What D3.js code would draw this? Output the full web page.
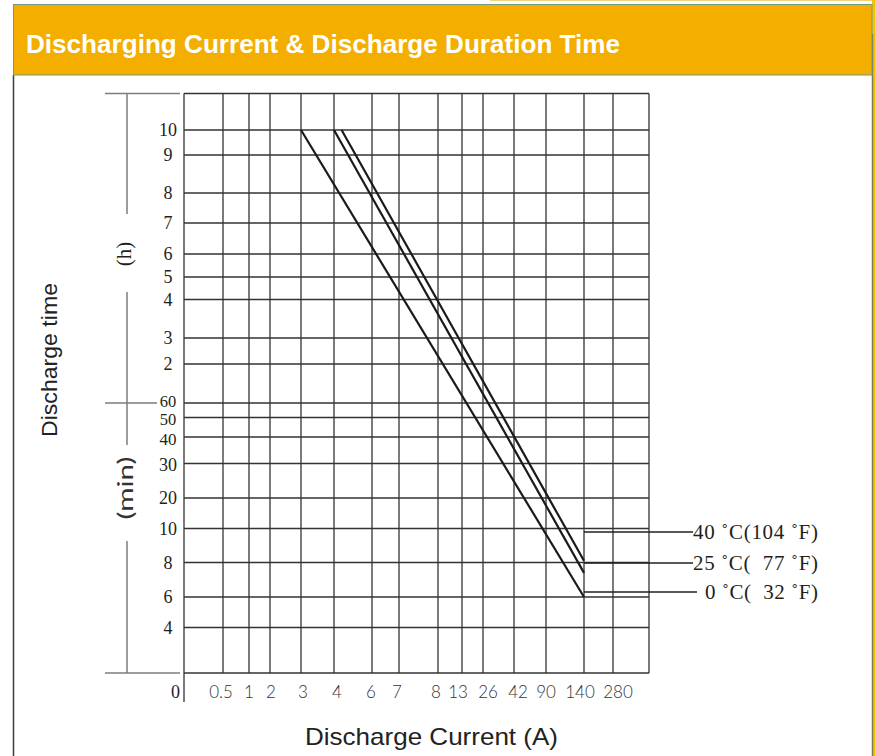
<!DOCTYPE html>
<html>
<head>
<meta charset="utf-8">
<script src="https://cdn.jsdelivr.net/npm/d3@7"></script>
<style>
  body { margin: 0; background: #fff; }
  svg { display: block; }
  text { white-space: pre; }
</style>
</head>
<body>
<svg></svg>
<script>
const width = 875;
const height = 756;

// Data
const currentTicks = [0, 0.5, 1, 2, 3, 4, 6, 7, 8, 13, 26, 42, 90, 140, 280];
const currentLabels = ["0", "0.5", "1", "2", "3", "4", "6", "7", "8", "13", "26", "42", "90", "140", "280"];
const timeTicks = [600, 540, 480, 420, 360, 300, 240, 180, 120, 60, 50, 40, 30, 20, 10, 8, 6, 4, 0]; // minutes
const timeLabels = ["10", "9", "8", "7", "6", "5", "4", "3", "2", "60", "50", "40", "30", "20", "10", "8", "6", "4", ""];
const seriesNames = ["40 ˚C(104 ˚F)", "25 ˚C(  77 ˚F)", "0 ˚C(  32 ˚F)"];
const startCurrent = [4.4, 4, 3];
const startTime = [600, 600, 600];
const endCurrent = [140, 140, 140];
const endTime = [8.1, 7.4, 6];

// Layout of the hand-drawn grid (pixel positions of each grid line)
const xGridPx = [184, 223, 249, 270, 301, 334, 372, 399, 438, 462, 483, 514, 546, 584, 613];
const yGridPx = [130, 155, 193, 223, 254, 277, 299.5, 338, 364, 403, 417.5, 437, 463.5, 498, 528.5, 562.5, 597, 627.5, 673];
const xLabelShift = [0, -2, 0, 1, 2, 3, -1, -2, -2, -4, 5, 4, 0, -4, 5];
const yLabelShift = [0, 0, 0, 0, 0, 0, 0, 0, 0, -1.5, 2, 2, 1, 0, 0, 0, 0, 0, 0];
const yLabelSize = [18, 18, 18, 18, 18, 18, 18, 18, 18, 16.5, 16.5, 17, 18, 18, 18, 18, 18, 18, 18];
const plotRight = 649;
const plotTop = 93.5;

const svg = d3.select("svg").attr("width", width).attr("height", height);

// page frame
svg.append("rect").attr("x", 0).attr("y", 0).attr("width", width).attr("height", height).attr("fill", "#fff");
svg.append("line").attr("x1", 490).attr("x2", 872).attr("y1", 0.5).attr("y2", 0.5)
    .attr("stroke", "#f3d27a").attr("stroke-width", 1);
svg.append("rect").attr("x", 872).attr("y", 0).attr("width", 3).attr("height", height).attr("fill", "#f7c200");
svg.append("line").attr("x1", 872.5).attr("x2", 872.5).attr("y1", 34).attr("y2", height)
    .attr("stroke", "#857853").attr("stroke-width", 1.5);
svg.append("line").attr("x1", 13.5).attr("x2", 13.5).attr("y1", 75).attr("y2", height)
    .attr("stroke", "#3c3c3c").attr("stroke-width", 1.5);

// header
svg.append("rect").attr("x", 13.5).attr("y", 4.5).attr("width", 858.5).attr("height", 70.5)
    .attr("fill", "#f3ae00").attr("stroke", "#6f9a86").attr("stroke-width", 1);
svg.append("text").attr("x", 26).attr("y", 53)
    .attr("font-family", "Liberation Sans, Arial, sans-serif").attr("font-weight", "bold")
    .attr("font-size", 25).attr("fill", "#fff")
    .attr("textLength", 594).attr("lengthAdjust", "spacingAndGlyphs")
    .text("Discharging Current & Discharge Duration Time");

// scales
const x = d3.scaleLinear().domain(currentTicks).range(xGridPx);
const y = d3.scaleLinear().domain(timeTicks).range(yGridPx);

const ink = "#231f20";
const grid = svg.append("g").attr("stroke", "#333").attr("stroke-width", 1.3).attr("fill", "none");

// horizontal grid lines
grid.selectAll("line.h")
    .data(timeTicks)
    .enter()
    .append("line")
    .attr("x1", x(0)).attr("x2", plotRight)
    .attr("y1", d => y(d)).attr("y2", d => y(d));

// vertical grid lines
grid.selectAll("line.v")
    .data(currentTicks.slice(1))
    .enter()
    .append("line")
    .attr("x1", d => x(d)).attr("x2", d => x(d))
    .attr("y1", plotTop).attr("y2", y(0));

grid.append("line").attr("x1", x(0)).attr("x2", x(0)).attr("y1", plotTop).attr("y2", 702);
grid.append("line").attr("x1", x(0)).attr("x2", plotRight).attr("y1", plotTop).attr("y2", plotTop);
grid.append("line").attr("x1", plotRight).attr("x2", plotRight).attr("y1", plotTop).attr("y2", y(0));

// y tick labels
svg.append("g")
    .selectAll("text")
    .data(timeTicks)
    .enter()
    .append("text")
    .attr("x", 168)
    .attr("y", (d, i) => y(d) + yLabelShift[i])
    .attr("dy", "0.34em")
    .attr("text-anchor", "middle")
    .attr("font-family", "Liberation Serif, Times New Roman, serif")
    .attr("font-size", (d, i) => yLabelSize[i])
    .attr("fill", ink)
    .text((d, i) => timeLabels[i]);

// x tick labels
svg.append("g")
    .selectAll("text")
    .data(currentTicks.slice(1))
    .enter()
    .append("text")
    .attr("x", (d, i) => x(d) + xLabelShift[i + 1])
    .attr("y", 698)
    .attr("text-anchor", "middle")
    .attr("font-family", "Lato, DejaVu Sans, sans-serif")
    .attr("font-weight", 300)
    .attr("font-size", 17)
    .attr("fill", "#333")
    .text((d, i) => currentLabels[i + 1]);

svg.append("text").attr("x", 175.5).attr("y", 698).attr("text-anchor", "middle")
    .attr("font-family", "Liberation Serif, Times New Roman, serif").attr("font-size", 18)
    .attr("fill", ink).text(currentLabels[0]);

// left bracket for (h) / (min)
const bracket = svg.append("g").attr("stroke", "#7d7d7d").attr("stroke-width", 1.5);
bracket.append("line").attr("x1", 105).attr("x2", 180).attr("y1", plotTop).attr("y2", plotTop);
bracket.append("line").attr("x1", 105).attr("x2", 180).attr("y1", y(0)).attr("y2", y(0));
bracket.append("line").attr("x1", 105).attr("x2", 157).attr("y1", y(60)).attr("y2", y(60));
bracket.append("line").attr("x1", 127).attr("x2", 127).attr("y1", plotTop).attr("y2", 214);
bracket.append("line").attr("x1", 127).attr("x2", 127).attr("y1", 292).attr("y2", 445);
bracket.append("line").attr("x1", 127).attr("x2", 127).attr("y1", 541).attr("y2", y(0));

svg.append("text").attr("transform", "translate(131,254) rotate(-90)")
    .attr("text-anchor", "middle")
    .attr("font-family", "Liberation Serif, Times New Roman, serif").attr("font-size", 21)
    .attr("fill", ink).text("(h)");
svg.append("text").attr("transform", "translate(133,488) rotate(-90)")
    .attr("text-anchor", "middle")
    .attr("font-family", "Lato, DejaVu Sans, sans-serif").attr("font-size", 21)
    .attr("fill", "#333")
    .attr("textLength", 63).attr("lengthAdjust", "spacingAndGlyphs")
    .text("(min)");

// axis titles
svg.append("text").attr("transform", "translate(57,360) rotate(-90)")
    .attr("text-anchor", "middle")
    .attr("font-family", "Liberation Sans, Arial, sans-serif").attr("font-size", 22)
    .attr("fill", "#222")
    .attr("textLength", 154).attr("lengthAdjust", "spacingAndGlyphs")
    .text("Discharge time");
svg.append("text").attr("x", 431.5).attr("y", 745)
    .attr("text-anchor", "middle")
    .attr("font-family", "Liberation Sans, Arial, sans-serif").attr("font-size", 24)
    .attr("fill", "#222")
    .attr("textLength", 253).attr("lengthAdjust", "spacingAndGlyphs")
    .text("Discharge Current (A)");

// discharge lines
const lineGen = d3.line().x(d => x(d[0])).y(d => y(d[1]));
svg.append("g")
    .selectAll("path")
    .data(seriesNames)
    .enter()
    .append("path")
    .attr("d", (d, i) => lineGen([[startCurrent[i], startTime[i]], [endCurrent[i], endTime[i]]]))
    .attr("fill", "none")
    .attr("stroke", "#1a1a1a")
    .attr("stroke-width", 2.2);

// legend leaders and labels
const legendY = [532, 563, 592];
const legendX = [693, 693, 705];
const legendEnd = [693, 693, 697];
const legendLen = [125, 125, 113];
const legend = svg.append("g");
seriesNames.forEach((name, i) => {
    legend.append("line")
        .attr("x1", x(140)).attr("x2", legendEnd[i])
        .attr("y1", legendY[i]).attr("y2", legendY[i])
        .attr("stroke", ink).attr("stroke-width", 1.3);
    legend.append("text")
        .attr("x", legendX[i]).attr("y", legendY[i] + 6.5)
        .attr("font-family", "Liberation Serif, Times New Roman, serif")
        .attr("font-size", 21)
        .attr("fill", ink)
        .attr("textLength", legendLen[i])
        .text(name);
});
</script>
</body>
</html>
